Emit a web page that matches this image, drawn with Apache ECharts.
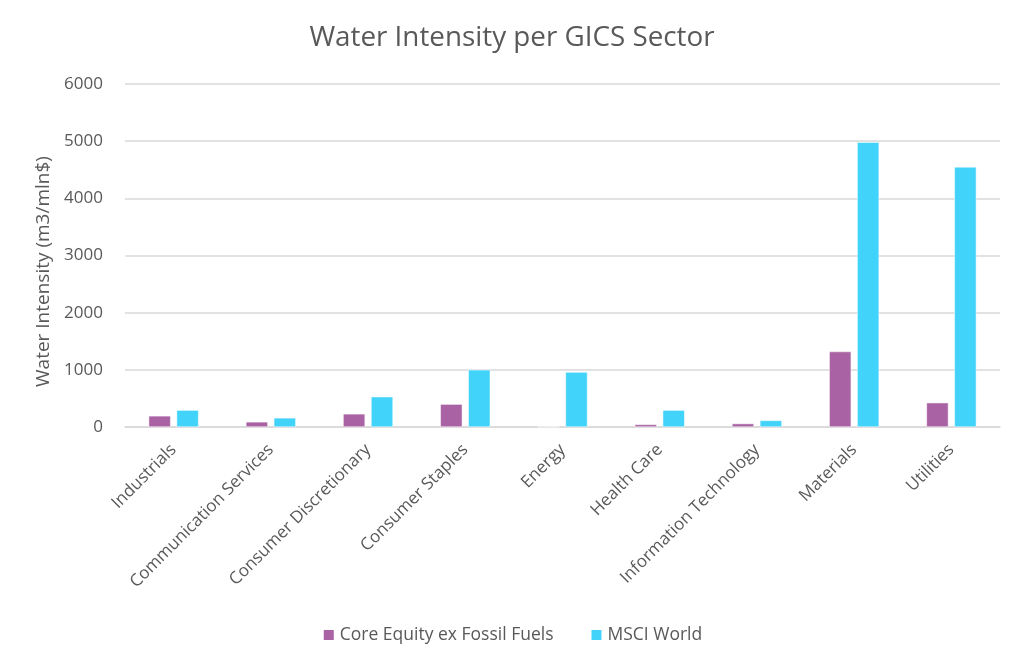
<!DOCTYPE html>
<html><head><meta charset="utf-8">
<script src="https://cdn.jsdelivr.net/npm/echarts@6/dist/echarts.min.js"></script>
<style>html,body{margin:0;padding:0;background:#fff}#c{width:1024px;height:669px}</style>
</head><body><div id="c"></div>
<script>
const categories = ["Industrials","Communication Services","Consumer Discretionary","Consumer Staples","Energy","Health Care","Information Technology","Materials","Utilities"];
const coreEquity = [195, 90, 230, 400, 5, 45, 60, 1320, 425];
const msciWorld = [295, 160, 530, 1000, 960, 295, 115, 4980, 4550];
const yTicks = [0, 1000, 2000, 3000, 4000, 5000, 6000];
const font = "'Open Sans', 'Liberation Sans', sans-serif";
const chart = echarts.init(document.getElementById('c'));
chart.setOption({
  animation: false,
  title: { text: 'Water Intensity per GICS Sector', left: 'center', top: 19,
    textStyle: { fontFamily: font, fontSize: 27.8, fontWeight: 'normal', color: '#595959' } },
  legend: { bottom: 20, left: 'center', itemWidth: 12, itemHeight: 12, itemGap: 36,
    icon: 'rect', textStyle: { fontFamily: font, fontSize: 17.5, color: '#595959' } },
  grid: { left: 125, right: 24, top: 84, bottom: 242 },
  xAxis: { type: 'category', data: categories,
    axisLine: { lineStyle: { color: '#D9D9D9', width: 1.5 } }, axisTick: { show: false },
    axisLabel: { rotate: 45, interval: 0, fontFamily: font, fontSize: 17, color: '#595959', margin: 20 } },
  yAxis: { type: 'value', min: yTicks[0], max: yTicks[yTicks.length-1], interval: 1000,
    name: 'Water Intensity (m3/mln$)', nameLocation: 'middle', nameGap: 72, nameRotate: 90,
    nameTextStyle: { fontFamily: font, fontSize: 19, color: '#595959', padding: [0, 32, 0, 0] },
    axisLine: { show: false }, axisTick: { show: false },
    splitLine: { lineStyle: { color: '#D9D9D9', width: 1.5 } },
    axisLabel: { fontFamily: font, fontSize: 17, color: '#595959', margin: 22,
      formatter: function (v) { return String(v); } } },
  series: [
    { name: 'Core Equity ex Fossil Fuels', type: 'bar', data: coreEquity, barWidth: 22, barGap: '27%',
      itemStyle: { color: '#A963A4', borderColor: '#fff', borderWidth: 0.5 } },
    { name: 'MSCI World', type: 'bar', data: msciWorld, barWidth: 22,
      itemStyle: { color: '#41D3F9', borderColor: '#fff', borderWidth: 0.5 } }
  ]
});
</script></body></html>
